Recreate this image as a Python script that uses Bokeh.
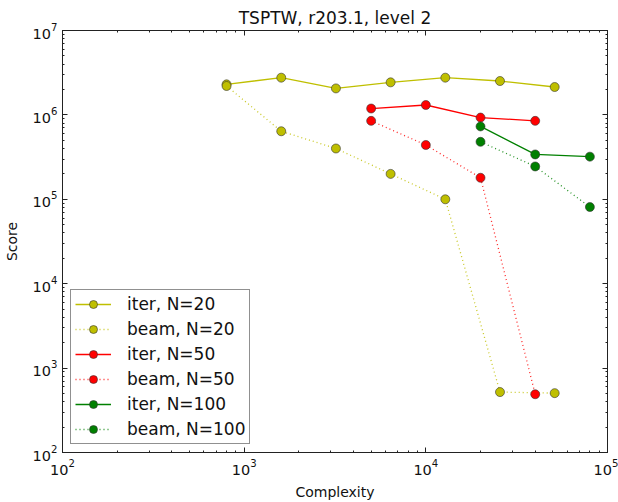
from bokeh.plotting import figure
from bokeh.models import (LogAxis, LogTicker, Legend, LegendItem, Range1d,
                          CustomJSTickFormatter)
from bokeh.embed import file_html
from bokeh.resources import INLINE

# ---- data ----
x_iter20 = [800, 1600, 3200, 6400, 12800, 25600, 51200]
y_iter20 = [2.3e6, 2.76e6, 2.06e6, 2.43e6, 2.76e6, 2.52e6, 2.14e6]
x_beam20 = [800, 1600, 3200, 6400, 12800, 25600, 51200]
y_beam20 = [2.2e6, 6.4e5, 4.0e5, 2.0e5, 1.0e5, 520, 505]
x_iter50 = [5000, 10000, 20000, 40000]
y_iter50 = [1.19e6, 1.31e6, 9.3e5, 8.5e5]
x_beam50 = [5000, 10000, 20000, 40000]
y_beam50 = [8.5e5, 4.4e5, 1.8e5, 490]
x_iter100 = [20000, 40000, 80000]
y_iter100 = [7.3e5, 3.4e5, 3.2e5]
x_beam100 = [20000, 40000, 80000]
y_beam100 = [4.8e5, 2.45e5, 8.1e4]

labels = ["iter, N=20", "beam, N=20", "iter, N=50", "beam, N=50",
          "iter, N=100", "beam, N=100"]
title_text = "TSPTW, r203.1, level 2"
x_label = "Complexity"
y_label = "Score"

YEL = "#bfbf00"
RED = "#ff0000"
GRN = "#008000"
FONT = "DejaVu Sans"

p = figure(x_axis_type="log", y_axis_type="log",
           x_range=Range1d(1e2, 1e5), y_range=Range1d(1e2, 1e7),
           width=618, height=502,
           min_border_left=62, min_border_right=11,
           min_border_top=30, min_border_bottom=49,
           output_backend="svg", toolbar_location=None)

p.title.text = title_text
p.title.align = "center"
p.title.text_font = FONT
p.title.text_font_size = "17px"
p.title.text_font_style = "normal"
p.title.text_color = "#111111"
p.title.standoff = 5

p.grid.visible = False
p.outline_line_color = "#222222"
p.background_fill_color = "white"
p.border_fill_color = "white"


def style_axis(ax):
    ax.ticker = LogTicker(num_minor_ticks=10)
    ax.major_tick_in = 5
    ax.major_tick_out = 0
    ax.minor_tick_in = 2
    ax.minor_tick_out = 0
    ax.axis_line_color = "#222222"
    ax.major_tick_line_color = "#222222"
    ax.minor_tick_line_color = "#222222"
    ax.major_label_text_font = FONT
    ax.major_label_text_font_size = "14.5px"
    ax.major_label_text_color = "#111111"
    ax.axis_label_text_font = FONT
    ax.axis_label_text_font_size = "14px"
    ax.axis_label_text_font_style = "normal"
    ax.axis_label_text_color = "#111111"


for ax in p.xaxis + p.yaxis:
    style_axis(ax)
p.xaxis.axis_label = x_label
p.yaxis.axis_label = y_label
p.xaxis.major_label_standoff = 6
p.yaxis.major_label_standoff = 5
p.xaxis.axis_label_standoff = 6
p.yaxis.axis_label_standoff = 10

for loc in ("above", "right"):
    ax = LogAxis()
    style_axis(ax)
    ax.formatter = CustomJSTickFormatter(code="return ''")
    ax.major_label_standoff = 0
    ax.major_label_text_font_size = "0px"
    p.add_layout(ax, loc)

series = [
    (x_iter20, y_iter20, YEL, None),
    (x_beam20, y_beam20, YEL, "1 3"),
    (x_iter50, y_iter50, RED, None),
    (x_beam50, y_beam50, RED, "1 3"),
    (x_iter100, y_iter100, GRN, None),
    (x_beam100, y_beam100, GRN, "1 3"),
]

items = []
for (xs, ys, col, dash), lab in zip(series, labels):
    if dash is None:
        lr = p.line(xs, ys, line_color=col, line_width=1.3)
    else:
        lr = p.line(xs, ys, line_color=col, line_width=1.3, line_dash=dash,
                    line_alpha=0.85)
    sr = p.scatter(xs, ys, size=9, fill_color=col, line_color="#333333",
                   line_width=0.6)
    items.append(LegendItem(label=lab, renderers=[lr, sr]))

legend = Legend(items=items, location="bottom_left")
legend.margin = 8
legend.padding = 4
legend.spacing = 5
legend.label_height = 20
legend.glyph_height = 20
legend.glyph_width = 36
legend.label_standoff = 16
legend.label_text_font = FONT
legend.label_text_font_size = "17px"
legend.label_text_color = "#111111"
legend.border_line_color = "#222222"
legend.border_line_width = 1.3
legend.background_fill_alpha = 1.0
p.add_layout(legend, "center")

open("out.html", "w").write(file_html(p, INLINE))
